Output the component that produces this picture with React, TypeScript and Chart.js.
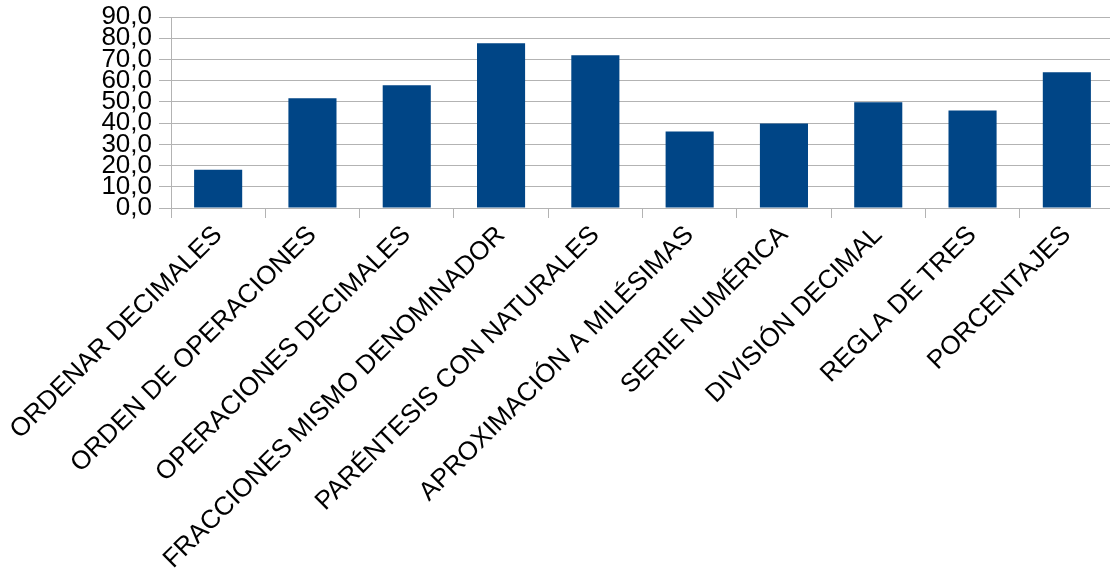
import React, { useEffect, useRef } from "react";
import { Chart, registerables } from "chart.js";

Chart.register(...registerables);

const categories: string[] = [
  "ORDENAR DECIMALES",
  "ORDEN DE OPERACIONES",
  "OPERACIONES DECIMALES",
  "FRACCIONES MISMO DENOMINADOR",
  "PARÉNTESIS CON NATURALES",
  "APROXIMACIÓN A MILÉSIMAS",
  "SERIE NUMÉRICA",
  "DIVISIÓN DECIMAL",
  "REGLA DE TRES",
  "PORCENTAJES",
];

const values: number[] = [18, 51.7, 57.8, 77.6, 72, 36, 39.8, 49.8, 46, 64];

const yMin = 0;
const yMax = 90;
const yStep = 10;

const BAR_COLOR = "#004586";
const GRID_COLOR = "#b3b3b3";
const FONT = "'Liberation Sans', Arial, sans-serif";

export default function App() {
  const canvasRef = useRef<HTMLCanvasElement | null>(null);

  useEffect(() => {
    const canvas = canvasRef.current;
    if (!canvas) return;
    Chart.defaults.color = "#000";
    const chart = new Chart(canvas, {
      type: "bar",
      data: {
        labels: categories,
        datasets: [
          {
            data: values,
            backgroundColor: BAR_COLOR,
            borderWidth: 0,
            barPercentage: 0.51,
            categoryPercentage: 1,
          },
        ],
      },
      options: {
        responsive: false,
        animation: false,
        layout: { padding: { left: 0, right: 16, top: 17, bottom: 0 } },
        plugins: {
          legend: { display: false },
          tooltip: { enabled: false },
        },
        scales: {
          x: {
            grid: {
              display: true,
              drawOnChartArea: false,
              drawTicks: true,
              tickLength: 10,
              color: GRID_COLOR,
              offset: true,
            },
            border: { display: true, color: GRID_COLOR },
            ticks: {
              autoSkip: false,
              minRotation: 45,
              maxRotation: 45,
              padding: 2,
              color: "#000",
              font: { family: FONT, size: 26 },
            },
            afterFit: (scale: any) => {
              scale.height = 575 - 208;
              scale.paddingLeft = 0;
              scale.paddingRight = 0;
            },
          },
          y: {
            min: yMin,
            max: yMax,
            grid: {
              color: GRID_COLOR,
              drawTicks: true,
              tickLength: 12,
            },
            border: { display: true, color: GRID_COLOR },
            ticks: {
              stepSize: yStep,
              autoSkip: false,
              padding: 7,
              color: "#000",
              font: { family: FONT, size: 26 },
              callback: (v: any) => Number(v).toFixed(1).replace(".", ","),
            },
            afterFit: (scale: any) => {
              scale.width = 171;
              scale.paddingTop = 0;
              scale.paddingBottom = 0;
            },
          },
        },
      },
    });
    return () => chart.destroy();
  }, []);

  return (
    <div
      style={{
        position: "absolute",
        left: 0,
        top: 0,
        width: 1110,
        height: 575,
        overflow: "hidden",
        background: "#fff",
      }}
    >
      <canvas ref={canvasRef} width={1130} height={575} style={{ display: "block" }} />
    </div>
  );
}
